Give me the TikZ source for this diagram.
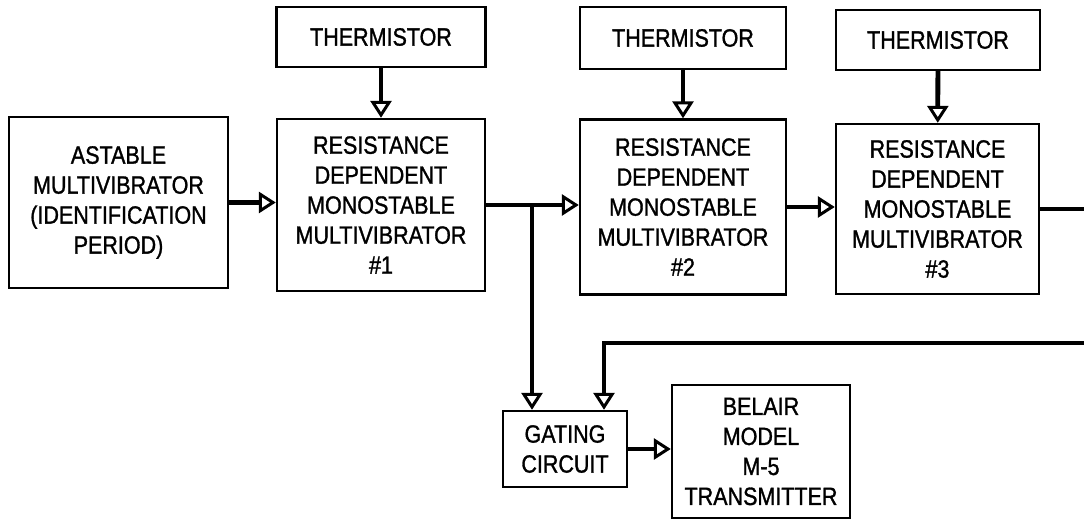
\documentclass[tikz,border=0pt]{standalone}
\usepackage{fontspec}
\setmainfont{Liberation Sans}[FakeStretch=0.86,FakeBold=1.2]
\usetikzlibrary{arrows.meta}

\begin{document}
\begin{tikzpicture}[x=1pt,y=-1pt,
  blk/.style={draw,line width=2.4pt,align=center,inner sep=0pt,font=\fontsize{25}{30}\selectfont},
  wire/.style={line width=4.8pt},
  flow/.style={wire,-{Triangle[open,length=17pt,width=21pt,line width=3pt]}}]
  \useasboundingbox (0,0) rectangle (1084,521);
  % top row
  \node[blk,minimum width=209pt,minimum height=60pt] (therm1) at (381,37) {THERMISTOR};
  \node[blk,minimum width=206pt,minimum height=62pt] (therm2) at (683,38) {THERMISTOR};
  \node[blk,minimum width=204pt,minimum height=60pt] (therm3) at (938,40) {THERMISTOR};
  \node[blk,minimum width=219pt,minimum height=171pt] (astable) at (118.5,202.5) {ASTABLE\\MULTIVIBRATOR\\(IDENTIFICATION\\PERIOD)};
  \node[blk,minimum width=208pt,minimum height=172pt] (rdmm1) at (381,205) {RESISTANCE\\DEPENDENT\\MONOSTABLE\\MULTIVIBRATOR\\\#1};
  \node[blk,minimum width=206pt,minimum height=175pt] (rdmm2) at (683,207) {RESISTANCE\\DEPENDENT\\MONOSTABLE\\MULTIVIBRATOR\\\#2};
  \node[blk,minimum width=203pt,minimum height=170pt] (rdmm3) at (937.5,209) {RESISTANCE\\DEPENDENT\\MONOSTABLE\\MULTIVIBRATOR\\\#3};
  % bottom row
  \node[blk,minimum width=124pt,minimum height=76pt] (gate) at (565,449) {GATING\\CIRCUIT};
  \node[blk,minimum width=178pt,minimum height=133pt] (belair) at (761,451.5) {BELAIR\\MODEL\\M-5\\TRANSMITTER};
  \coordinate (tap) at (532,205);
  \coordinate (out3) at (1084,209);
  \coordinate (fbk) at (1084,343);
  \coordinate (drop) at (604,343);
  % connectors
  \draw[flow] (therm1) -- (rdmm1);
  \draw[flow] (therm2) -- (rdmm2);
  \draw[flow] (therm3) -- (rdmm3);
  \draw[flow] (astable.east) -- (astable.east -| rdmm1.west);
  \draw[flow] (rdmm1.east) -- (rdmm1.east -| rdmm2.west);
  \draw[flow] (rdmm2.east) -- (rdmm2.east -| rdmm3.west);
  \draw[wire] (rdmm3.east) -- (out3);
  \draw[flow] (tap) -- (tap |- gate.north);
  \draw[flow] (fbk) -- (drop) -- (drop |- gate.north);
  \draw[flow] (gate.east) -- (gate.east -| belair.west);
\end{tikzpicture}
\end{document}
